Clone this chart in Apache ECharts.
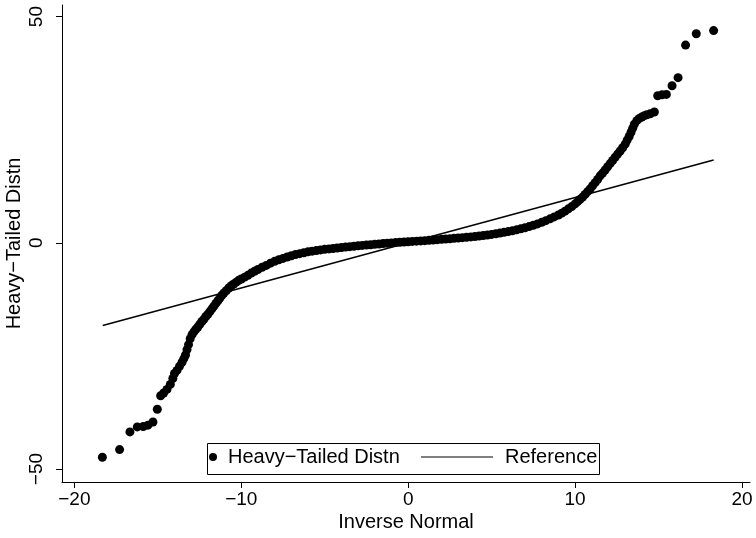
<!DOCTYPE html>
<html lang="en">
<head>
<meta charset="UTF-8">
<title>qnorm</title>
<script src="https://cdn.jsdelivr.net/npm/echarts@6/dist/echarts.min.js"></script>
<style>
  html, body { margin: 0; padding: 0; background: #fff; }
  #chart { width: 756px; height: 538px; }
</style>
</head>
<body>
<div id="chart"></div>
<script>
// inverse normal quantiles (x) and the sorted heavy-tailed values (y)
var qx = [
  -18.32, -17.29, -16.67, -16.23, -15.87, -15.59, -15.29, -15.03, -14.83, -14.65,
  -14.45, -14.25, -14.10, -14.00, -13.85, -13.70, -13.55, -13.44, -13.34, -13.25,
  -13.16, -13.06, -12.95, -12.84, -12.72, -12.60, -12.48, -12.36, -12.24, -12.12,
  -12.00, -11.88, -11.76, -11.64, -11.52, -11.40, -11.28, -11.16, -11.04, -10.90,
  -10.75, -10.60, -10.45, -10.30, -10.15, -10.00, -9.80, -9.60, -9.40, -9.20,
  -9.00, -8.75, -8.50, -8.25, -8.00, -7.75, -7.50, -7.25, -7.00, -6.75,
  -6.50, -6.25, -6.00, -5.75, -5.50, -5.25, -5.00, -4.75, -4.50, -4.25,
  -4.00, -3.75, -3.50, -3.25, -3.00, -2.75, -2.50, -2.25, -2.00, -1.75,
  -1.50, -1.25, -1.00, -0.75, -0.50, -0.25, 0.00, 0.25, 0.50, 0.75,
  1.00, 1.25, 1.50, 1.75, 2.00, 2.25, 2.50, 2.75, 3.00, 3.25,
  3.50, 3.75, 4.00, 4.25, 4.50, 4.75, 5.00, 5.25, 5.50, 5.75,
  6.00, 6.25, 6.50, 6.75, 7.00, 7.25, 7.50, 7.75, 8.00, 8.25,
  8.50, 8.75, 9.00, 9.20, 9.40, 9.60, 9.80, 10.00, 10.15, 10.30,
  10.45, 10.60, 10.75, 10.90, 11.05, 11.20, 11.35, 11.50, 11.65, 11.80,
  11.95, 12.10, 12.25, 12.40, 12.55, 12.70, 12.85, 13.00, 13.12, 13.24,
  13.35, 13.45, 13.55, 13.70, 13.85, 14.00, 14.15, 14.30, 14.50, 14.75,
  14.95, 15.21, 15.47, 15.81, 16.17, 16.62, 17.26, 18.30
];
var qy = [
  -47.4, -45.7, -41.8, -40.7, -40.6, -40.3, -39.6, -36.8, -33.8, -33.2,
  -32.4, -31.3, -30.0, -28.9, -28.2, -27.3, -26.4, -25.6, -24.8, -23.6,
  -22.5, -21.2, -20.3, -19.7, -19.1, -18.6, -18.0, -17.4, -16.9, -16.3,
  -15.8, -15.2, -14.6, -14.0, -13.4, -12.8, -12.2, -11.6, -11.1, -10.6,
  -10.0, -9.5, -9.1, -8.7, -8.3, -8.0, -7.6, -7.2, -6.7, -6.3,
  -5.9, -5.4, -5.0, -4.5, -4.1, -3.75, -3.45, -3.15, -2.85, -2.6,
  -2.4, -2.2, -2.0, -1.85, -1.7, -1.57, -1.45, -1.35, -1.25, -1.15,
  -1.05, -0.95, -0.85, -0.76, -0.67, -0.58, -0.50, -0.42, -0.34, -0.26,
  -0.18, -0.10, -0.02, 0.05, 0.12, 0.18, 0.24, 0.30, 0.36, 0.42,
  0.48, 0.55, 0.62, 0.69, 0.76, 0.83, 0.90, 0.98, 1.06, 1.14,
  1.22, 1.30, 1.40, 1.50, 1.61, 1.73, 1.86, 2.00, 2.15, 2.31,
  2.48, 2.66, 2.86, 3.08, 3.32, 3.58, 3.87, 4.18, 4.52, 4.90,
  5.30, 5.72, 6.15, 6.55, 7.0, 7.5, 8.0, 8.6, 9.1, 9.6,
  10.1, 10.7, 11.3, 11.9, 12.6, 13.3, 14.0, 14.8, 15.4, 16.1,
  16.8, 17.5, 18.2, 18.9, 19.6, 20.3, 21.0, 21.8, 22.7, 23.5,
  24.4, 25.3, 26.2, 27.0, 27.5, 27.8, 28.1, 28.3, 28.5, 28.9,
  32.5, 32.7, 32.8, 34.7, 36.5, 43.7, 46.2, 46.9
];
var refX = [-18.3, 18.3];
var xTicks = [-20, -10, 0, 10, 20];
var yTicks = [-50, 0, 50];

var seriesName = 'Heavy\u2212Tailed Distn';
var refName = 'Reference';
var font = 'Liberation Sans, Arial, Helvetica, sans-serif';

function minus(v) { return String(v).replace('-', '\u2212'); }

var pts = qx.map(function (x, i) { return [x, qy[i]]; });
var refPts = refX.map(function (x) { return [x, x]; });

var chart = echarts.init(document.getElementById('chart'), null, { renderer: 'canvas' });
chart.setOption({
  animation: false,
  backgroundColor: '#fff',
  grid: { left: 62, right: 6, top: 5, bottom: 56, containLabel: false, outerBoundsMode: 'none' },
  xAxis: {
    type: 'value', min: -20.74, max: 20.48,
    name: 'Inverse Normal', nameLocation: 'middle', nameGap: 30, nameMoveOverlap: false,
    nameTextStyle: { color: '#000', fontSize: 20, fontFamily: font },
    axisLine: { onZero: false, lineStyle: { color: '#000', width: 1 } },
    axisTick: { show: true, length: 6, lineStyle: { color: '#000' }, customValues: xTicks },
    axisLabel: { color: '#000', fontSize: 19, fontFamily: font, margin: 8,
                 customValues: xTicks, formatter: minus },
    splitLine: { show: false }
  },
  yAxis: {
    type: 'value', min: -52.87, max: 52.56,
    name: 'Heavy\u2212Tailed Distn', nameLocation: 'middle', nameGap: 38, nameRotate: 90,
    nameMoveOverlap: false,
    nameTextStyle: { color: '#000', fontSize: 20, fontFamily: font },
    axisLine: { onZero: false, lineStyle: { color: '#000', width: 1 } },
    axisTick: { show: true, length: 6, lineStyle: { color: '#000' }, customValues: yTicks },
    axisLabel: { color: '#000', fontSize: 19, fontFamily: font, margin: 16, rotate: 90,
                 customValues: yTicks, formatter: minus },
    splitLine: { show: false }
  },
  graphic: [{
    type: 'rect', left: 207, top: 443, z: 10,
    shape: { width: 392, height: 31 },
    style: { fill: '#fff', stroke: '#000', lineWidth: 1 }
  }],
  legend: [{
    data: [{ name: seriesName, icon: 'circle' }],
    left: 209, top: 447, padding: 0, z: 20,
    itemWidth: 8, itemHeight: 8,
    textStyle: { color: '#000', fontSize: 20, fontFamily: font, padding: [0, 0, 0, 6] }
  }, {
    data: [{ name: refName, icon: 'path://M0,0 L100,0 L100,1.4 L0,1.4 Z' }],
    left: 421, top: 447, padding: 0, z: 20,
    itemWidth: 72, itemHeight: 1.5,
    textStyle: { color: '#000', fontSize: 20, fontFamily: font, padding: [0, 0, 0, 7] }
  }],
  series: [{
    name: seriesName, type: 'scatter', data: pts,
    symbol: 'circle', symbolSize: 9,
    itemStyle: { color: '#000', opacity: 1 }
  }, {
    name: refName, type: 'line', data: refPts,
    symbol: 'none', lineStyle: { color: '#000', width: 1.5 },
    itemStyle: { color: '#000' }
  }]
});
</script>
</body>
</html>
